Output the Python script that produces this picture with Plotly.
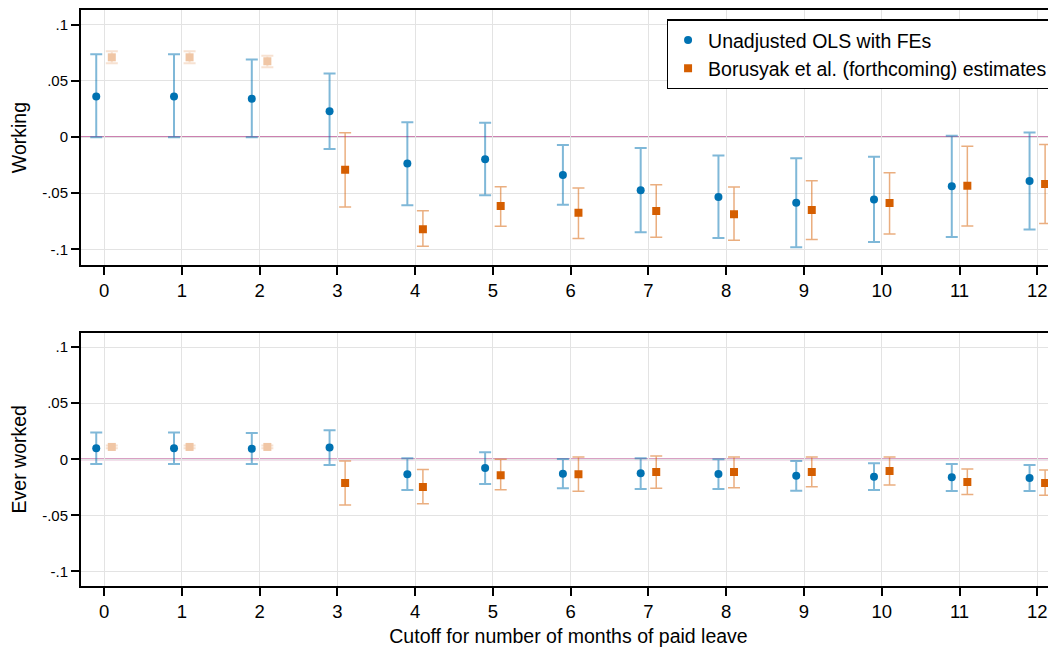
import plotly.graph_objects as go
from plotly.subplots import make_subplots

cutoffs = list(range(13))

# Working panel
work_ols = [0.036, 0.036, 0.034, 0.023, -0.0236, -0.0197, -0.0337, -0.0474, -0.0534, -0.0585, -0.0555, -0.0438, -0.0391]
work_ols_hi = [0.0736, 0.0736, 0.0689, 0.0566, 0.0131, 0.0128, -0.0072, -0.0098, -0.0165, -0.0188, -0.0176, 0.0012, 0.0041]
work_ols_lo = [-0.0003, -0.0003, -0.0003, -0.0107, -0.0606, -0.0519, -0.0603, -0.0847, -0.0898, -0.0981, -0.0934, -0.0889, -0.0823]
work_bor = [0.0709, 0.0709, 0.0674, -0.0292, -0.082, -0.0614, -0.0674, -0.0659, -0.0686, -0.065, -0.0588, -0.0433, -0.0418]
work_bor_hi = [0.0763, 0.0763, 0.0724, 0.0038, -0.0656, -0.0442, -0.0453, -0.0424, -0.0445, -0.0388, -0.0317, -0.0081, -0.0066]
work_bor_lo = [0.0656, 0.0656, 0.062, -0.0623, -0.0972, -0.0793, -0.0903, -0.0892, -0.0919, -0.0912, -0.0862, -0.0791, -0.0769]

# Ever worked panel
ever_ols = [0.0098, 0.0098, 0.0095, 0.0104, -0.0134, -0.0077, -0.0128, -0.0125, -0.0131, -0.0146, -0.0155, -0.0161, -0.0167]
ever_ols_hi = [0.0238, 0.0238, 0.0235, 0.0259, 0.0009, 0.0063, 0.0003, 0.0009, 0.0, -0.0015, -0.0036, -0.0042, -0.0051]
ever_ols_lo = [-0.0042, -0.0042, -0.0042, -0.0051, -0.0274, -0.022, -0.0259, -0.0265, -0.0265, -0.028, -0.0274, -0.0283, -0.0283]
ever_bor = [0.011, 0.011, 0.011, -0.0211, -0.0247, -0.0143, -0.0134, -0.0113, -0.0113, -0.0113, -0.0104, -0.0202, -0.0211]
ever_bor_hi = [0.0122, 0.0122, 0.0122, -0.0015, -0.0092, 0.0, 0.0021, 0.003, 0.0021, 0.0021, 0.0021, -0.0086, -0.0095]
ever_bor_lo = [0.0098, 0.0098, 0.0098, -0.0408, -0.0396, -0.0271, -0.0286, -0.0259, -0.0253, -0.0244, -0.0229, -0.0313, -0.0321]

n_pre = 3  # cutoffs 0-2 drawn faded for Borusyak estimates
offset = 0.1

y_tickvals = [-0.1, -0.05, 0, 0.05, 0.1]
y_ticktext = ["-.1", "-.05", "0", ".05", ".1"]

BLUE = "#0072B2"
ORANGE = "#D55E00"
BLUE_ERR = "rgba(0,114,178,0.5)"
ORANGE_ERR = "rgba(213,94,0,0.5)"
FONT = "Liberation Sans, Arial, sans-serif"

fig = make_subplots(rows=2, cols=1, vertical_spacing=0.117)


def add_panel(row, ols, ols_hi, ols_lo, bor, bor_hi, bor_lo, show):
    xs = [c - offset for c in cutoffs]
    fig.add_trace(go.Scatter(
        x=xs, y=ols, mode="markers", name="Unadjusted OLS with FEs",
        marker=dict(color=BLUE, size=8, symbol="circle"),
        error_y=dict(type="data", symmetric=False,
                     array=[h - v for h, v in zip(ols_hi, ols)],
                     arrayminus=[v - l for v, l in zip(ols, ols_lo)],
                     color=BLUE_ERR, thickness=2, width=6),
        showlegend=show, legendrank=1), row=row, col=1)
    xb = [c + offset for c in cutoffs]
    # faded pre-period
    fig.add_trace(go.Scatter(
        x=xb[:n_pre], y=bor[:n_pre], mode="markers", opacity=0.35,
        marker=dict(color=ORANGE, size=8, symbol="square"),
        error_y=dict(type="data", symmetric=False,
                     array=[h - v for h, v in zip(bor_hi[:n_pre], bor[:n_pre])],
                     arrayminus=[v - l for v, l in zip(bor[:n_pre], bor_lo[:n_pre])],
                     color=ORANGE_ERR, thickness=2, width=6),
        showlegend=False, hoverinfo="skip"), row=row, col=1)
    fig.add_trace(go.Scatter(
        x=xb[n_pre:], y=bor[n_pre:], mode="markers",
        name="Borusyak et al. (forthcoming) estimates",
        marker=dict(color=ORANGE, size=8, symbol="square"),
        error_y=dict(type="data", symmetric=False,
                     array=[h - v for h, v in zip(bor_hi[n_pre:], bor[n_pre:])],
                     arrayminus=[v - l for v, l in zip(bor[n_pre:], bor_lo[n_pre:])],
                     color=ORANGE_ERR, thickness=1.5, width=6),
        showlegend=show, legendrank=2), row=row, col=1)


add_panel(1, work_ols, work_ols_hi, work_ols_lo, work_bor, work_bor_hi, work_bor_lo, True)
add_panel(2, ever_ols, ever_ols_hi, ever_ols_lo, ever_bor, ever_bor_hi, ever_bor_lo, False)

for r in (1, 2):
    fig.add_hline(y=0, line=dict(color="#CC80B0", width=2), layer="below", row=r, col=1)

for r in (1, 2):
    fig.update_xaxes(range=[-0.296, 12.24], tickvals=cutoffs, ticktext=[str(c) for c in cutoffs],
                     showgrid=True, gridcolor="#E3E3E3", gridwidth=1,
                     showline=True, linecolor="black", linewidth=2, mirror=True,
                     ticks="outside", ticklen=8, tickcolor="black", tickwidth=1.5,
                     tickfont=dict(family=FONT, size=18.5, color="black"),
                     zeroline=False, row=r, col=1)
    fig.update_yaxes(tickvals=y_tickvals, ticktext=y_ticktext,
                     showgrid=True, gridcolor="#E3E3E3", gridwidth=1,
                     showline=True, linecolor="black", linewidth=2, mirror=False,
                     ticks="outside", ticklen=8, tickcolor="black", tickwidth=1.5,
                     tickfont=dict(family=FONT, size=15, color="black"),
                     zeroline=False, row=r, col=1)

fig.update_yaxes(range=[-0.114, 0.113], domain=[0.557, 1.0],
                 title=dict(text="Working", font=dict(family=FONT, size=19.5, color="black"), standoff=10),
                 row=1, col=1)
fig.update_yaxes(range=[-0.113, 0.113], domain=[0.0, 0.44],
                 title=dict(text="Ever worked", font=dict(family=FONT, size=19.5, color="black"), standoff=10),
                 row=2, col=1)
fig.update_xaxes(title=dict(text="Cutoff for number of months of paid leave",
                            font=dict(family=FONT, size=19.5, color="black"), standoff=8),
                 row=2, col=1)

fig.update_layout(
    width=1048, height=645,
    margin=dict(l=73, r=0, t=2, b=67),
    paper_bgcolor="white", plot_bgcolor="white",
    font=dict(family=FONT, color="black"),
    legend=dict(x=0.9975, y=0.984, xanchor="right", yanchor="top",
                bgcolor="white", bordercolor="black", borderwidth=1.5,
                font=dict(family=FONT, size=19.5, color="black"),
                traceorder="normal", itemwidth=30),
)

fig.write_html("out.html")
